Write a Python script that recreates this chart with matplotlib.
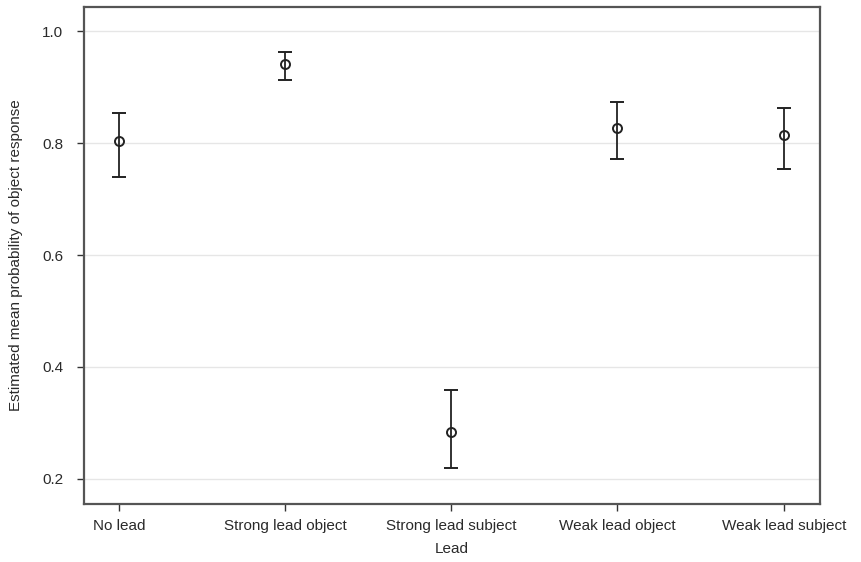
import numpy as np
import matplotlib.pyplot as plt

# estimated means and confidence limits
leads = ['No lead', 'Strong lead object', 'Strong lead subject',
         'Weak lead object', 'Weak lead subject']
means = [0.804, 0.941, 0.284, 0.827, 0.814]
upper = [0.854, 0.962, 0.359, 0.873, 0.862]
lower = [0.739, 0.912, 0.220, 0.771, 0.754]
yticks = [0.2, 0.4, 0.6, 0.8, 1.0]

plt.rcParams['font.family'] = ['Liberation Sans', 'DejaVu Sans']

fig = plt.figure(figsize=(8.62, 5.62), dpi=100)
ax = fig.add_axes([0.0974, 0.103, 0.8536, 0.8845])

x = np.arange(len(leads))
m = np.array(means)
err = [m - np.array(lower), np.array(upper) - m]

ax.errorbar(x, m, yerr=err, fmt='o', mfc='none', mec='#222222', mew=1.4,
            ms=6.5, ecolor='#222222', elinewidth=1.3, capsize=5.3, capthick=1.3,
            zorder=3)

ax.set_xlim(-0.21, 4.217)
ax.set_ylim(0.155, 1.043)
ax.set_xticks(x)
ax.set_xticklabels(leads, fontsize=11, color='#2a2a2a')
ax.set_yticks(yticks)
ax.set_yticklabels([f'{v:.1f}' for v in yticks], fontsize=11, color='#2a2a2a')
ax.yaxis.grid(True, color='#e6e6e6', linewidth=1)
ax.set_axisbelow(True)
ax.tick_params(axis='x', direction='out', length=5, width=1, color='#333333', pad=6)
ax.tick_params(axis='y', direction='out', length=5, width=1, color='#333333', pad=10)

for s in ax.spines.values():
    s.set_color('#555555')
    s.set_linewidth(1.6)

ax.set_xlabel('Lead', fontsize=11, color='#2a2a2a', labelpad=6)
ax.set_ylabel('Estimated mean probability of object response', fontsize=11,
              color='#2a2a2a', labelpad=14)

fig.savefig('out.png', dpi=100)
